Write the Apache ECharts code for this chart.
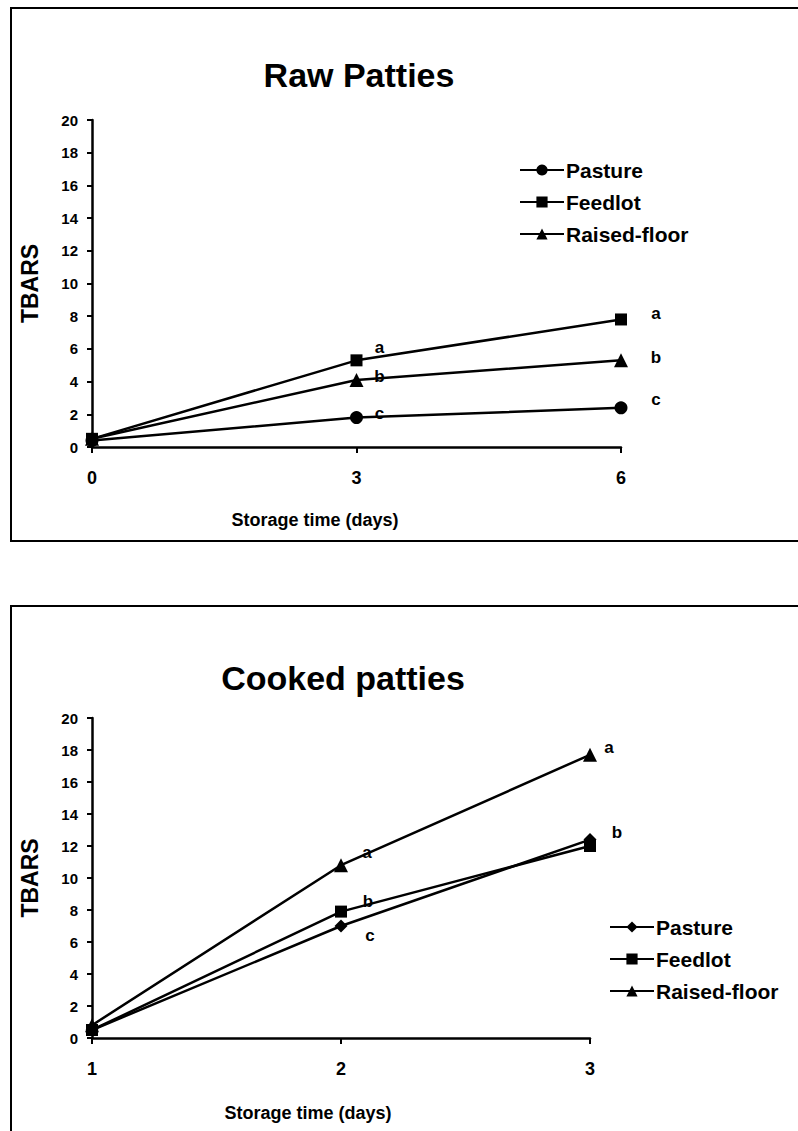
<!DOCTYPE html>
<html>
<head>
<meta charset="utf-8">
<title>TBARS of raw and cooked patties</title>
<script src="https://cdn.jsdelivr.net/npm/echarts@6/dist/echarts.min.js"></script>
<style>
  html, body { margin: 0; padding: 0; background: #fff; }
  .panel { position: absolute; left: 0; width: 798px; }
  #raw { top: 0; height: 574px; }
  #cooked { top: 574px; height: 557px; }
</style>
</head>
<body>
<div id="raw" class="panel"></div>
<div id="cooked" class="panel"></div>
<script>
// Raw patties: storage days and TBARS values per feeding system
const rawDays = [0, 3, 6];
const rawPasture = [0.4, 1.8, 2.4];
const rawFeedlot = [0.5, 5.3, 7.8];
const rawRaised = [0.5, 4.1, 5.3];
const rawPastureLetters = ['', 'c', 'c'];
const rawFeedlotLetters = ['', 'a', 'a'];
const rawRaisedLetters = ['', 'b', 'b'];

// Cooked patties
const cookedDays = [1, 2, 3];
const cookedPasture = [0.5, 7.0, 12.4];
const cookedFeedlot = [0.5, 7.9, 12.0];
const cookedRaised = [0.8, 10.8, 17.7];
const cookedPastureLetters = ['', 'c', 'b'];
const cookedFeedlotLetters = ['', 'b', ''];
const cookedRaisedLetters = ['', 'a', 'a'];

const yTicks = [0, 2, 4, 6, 8, 10, 12, 14, 16, 18, 20];
const seriesNames = ['Pasture', 'Feedlot', 'Raised-floor'];

const FONT = "'Liberation Sans', Arial, sans-serif";

// letter label offsets (label centre relative to its point)
const rawOffsets = {
  Pasture: [null, [23, -4], [35, -8]],
  Feedlot: [null, [23, -13], [35, -6]],
  'Raised-floor': [null, [23, -3], [35, -3]]
};
const cookedOffsets = {
  Pasture: [null, [29, 9], [27, -7]],
  Feedlot: [null, [27, -10], null],
  'Raised-floor': [null, [26, -13], [19, -7]]
};

function points(days, values, letters, offsets) {
  return days.map((d, i) => {
    const item = { value: [d, values[i]] };
    if (letters[i]) {
      item.label = {
        show: true,
        position: 'inside',
        formatter: letters[i],
        offset: offsets[i],
        color: '#000',
        fontFamily: FONT,
        fontWeight: 'bold',
        fontSize: 17
      };
    }
    return item;
  });
}

function lineSeries(name, symbol, size, data) {
  return {
    name: name,
    type: 'line',
    symbol: symbol,
    symbolSize: size,
    data: data,
    lineStyle: { color: '#000', width: 2.5 },
    itemStyle: { color: '#000' },
    label: { show: false },
    emphasis: { disabled: true },
    z: 3
  };
}

function yAxisDef() {
  return {
    type: 'value',
    min: yTicks[0],
    max: yTicks[yTicks.length - 1],
    interval: yTicks[1] - yTicks[0],
    name: 'TBARS',
    nameLocation: 'middle',
    nameRotate: 90,
    nameGap: 51,
    nameTextStyle: { color: '#000', fontFamily: FONT, fontWeight: 'bold', fontSize: 23 },
    axisLine: { show: true, lineStyle: { color: '#000', width: 2.5 } },
    axisTick: { show: true, inside: false, length: 5, lineStyle: { color: '#000', width: 2 } },
    axisLabel: { color: '#000', fontFamily: FONT, fontWeight: 'bold', fontSize: 15, margin: 14 },
    splitLine: { show: false }
  };
}

function xAxisDef(days) {
  return {
    type: 'value',
    min: days[0],
    max: days[days.length - 1],
    interval: days[1] - days[0],
    axisLine: { show: true, onZero: false, lineStyle: { color: '#000', width: 2.5 } },
    axisTick: { show: true, inside: false, length: 6, lineStyle: { color: '#000', width: 2 } },
    axisLabel: { color: '#000', fontFamily: FONT, fontWeight: 'bold', fontSize: 18, margin: 22 },
    splitLine: { show: false }
  };
}

function legendDef(left, top) {
  return {
    data: seriesNames,
    orient: 'vertical',
    left: left,
    top: top,
    itemWidth: 44,
    itemHeight: 14,
    itemGap: 10,
    selectedMode: false,
    textStyle: { color: '#000', fontFamily: FONT, fontWeight: 'bold', fontSize: 21, lineHeight: 22, padding: [0, 0, 0, -3] }
  };
}

function text(x, y, str, size) {
  return {
    type: 'text',
    x: x,
    y: y,
    style: {
      text: str,
      fill: '#000',
      font: 'bold ' + size + 'px ' + FONT,
      textAlign: 'center',
      textVerticalAlign: 'middle'
    },
    silent: true
  };
}

function frame(y, h) {
  // panel frame, left open past the right edge of the page
  return { type: 'rect', shape: { x: 11, y: y, width: 900, height: h }, style: { fill: 'none', stroke: '#000', lineWidth: 2 }, silent: true };
}

function panel(el, cfg) {
  const chart = echarts.init(document.getElementById(el), null, { renderer: 'svg' });
  chart.setOption({
    backgroundColor: '#fff',
    animation: false,
    grid: cfg.grid,
    xAxis: xAxisDef(cfg.days),
    yAxis: yAxisDef(),
    legend: legendDef(cfg.legendLeft, cfg.legendTop),
    series: [
      lineSeries('Pasture', cfg.pastureSymbol, 13, points(cfg.days, cfg.pasture, cfg.pastureLetters, cfg.offsets.Pasture)),
      lineSeries('Feedlot', 'rect', 12, points(cfg.days, cfg.feedlot, cfg.feedlotLetters, cfg.offsets.Feedlot)),
      lineSeries('Raised-floor', 'triangle', 14, points(cfg.days, cfg.raised, cfg.raisedLetters, cfg.offsets['Raised-floor']))
    ],
    graphic: [
      frame(cfg.frameTop, cfg.frameHeight),
      text(cfg.titleX, cfg.titleY, cfg.title, 34),
      text(cfg.xNameX, cfg.xNameY, 'Storage time (days)', 18)
    ]
  });
}

panel('raw', {
  grid: { left: 92, top: 120, width: 529, height: 327 },
  days: rawDays,
  pasture: rawPasture, feedlot: rawFeedlot, raised: rawRaised,
  pastureLetters: rawPastureLetters, feedlotLetters: rawFeedlotLetters, raisedLetters: rawRaisedLetters,
  offsets: rawOffsets,
  pastureSymbol: 'circle',
  legendLeft: 514, legendTop: 154,
  frameTop: 8, frameHeight: 533,
  title: 'Raw Patties', titleX: 359, titleY: 75,
  xNameX: 315, xNameY: 520
});

panel('cooked', {
  grid: { left: 92, top: 144, width: 498, height: 320 },
  days: cookedDays,
  pasture: cookedPasture, feedlot: cookedFeedlot, raised: cookedRaised,
  pastureLetters: cookedPastureLetters, feedlotLetters: cookedFeedlotLetters, raisedLetters: cookedRaisedLetters,
  offsets: cookedOffsets,
  pastureSymbol: 'diamond',
  legendLeft: 604, legendTop: 337,
  frameTop: 32, frameHeight: 600,
  title: 'Cooked patties', titleX: 343, titleY: 104,
  xNameX: 308, xNameY: 539
});
</script>
</body>
</html>
